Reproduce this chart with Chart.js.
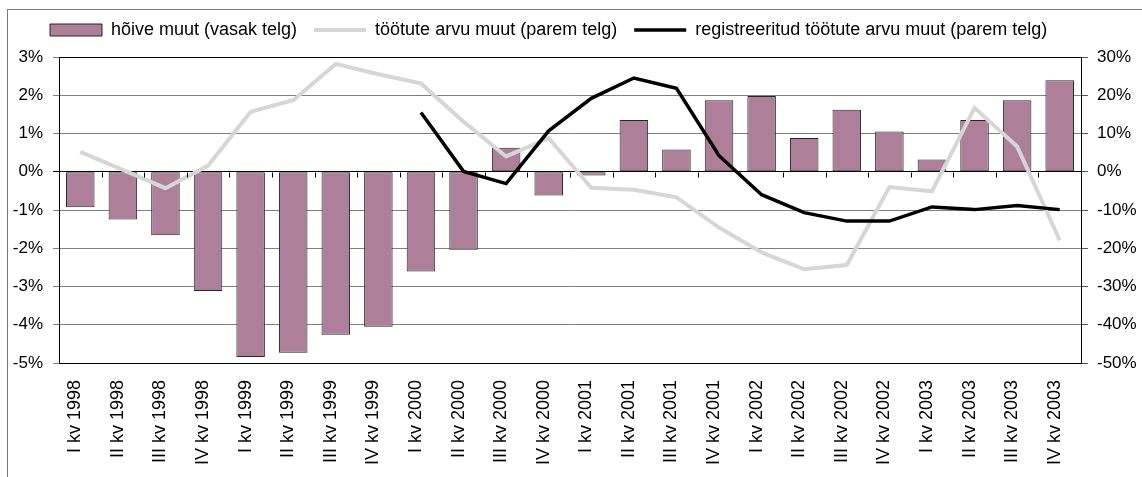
<!DOCTYPE html>
<html>
<head>
<meta charset="utf-8">
<script src="https://cdn.jsdelivr.net/npm/chart.js@4/dist/chart.umd.min.js"></script>
<style>
  html, body { margin: 0; padding: 0; background: #fff; }
  body { width: 1142px; height: 477px; position: relative; overflow: hidden; }
  #frame { position: absolute; left: 7px; top: 9px; width: 1140px; height: 480px; border: 1px solid #7a7a7a; box-sizing: border-box; z-index: 2; pointer-events: none; }
  #wrap { position: absolute; left: 0; top: 4px; width: 1142px; height: 473px; }
</style>
</head>
<body>
<div id="frame"></div>
<div id="wrap"><canvas id="chart"></canvas></div>
<script>
// kvartalid
const quarters = [
    'I kv 1998','II kv 1998','III kv 1998','IV kv 1998',
    'I kv 1999','II kv 1999','III kv 1999','IV kv 1999',
    'I kv 2000','II kv 2000','III kv 2000','IV kv 2000',
    'I kv 2001','II kv 2001','III kv 2001','IV kv 2001',
    'I kv 2002','II kv 2002','III kv 2002','IV kv 2002',
    'I kv 2003','II kv 2003','III kv 2003','IV kv 2003'
];
// hõive muut, % (vasak telg)
const hoiveMuut = [-0.93,-1.25,-1.66,-3.12,-4.84,-4.73,-4.26,-4.05,-2.61,-2.04,0.63,-0.62,-0.10,1.35,0.58,1.87,1.98,0.88,1.62,1.05,0.32,1.35,1.87,2.39];
// töötute arvu muut, % (parem telg)
const tootuteMuut = [5.2,0.5,-4.3,1.6,15.7,18.7,28.2,25.5,23.1,13.1,4.0,8.8,-4.2,-4.7,-6.7,-14.6,-21.1,-25.5,-24.4,-4.0,-5.1,16.7,6.6,-17.9];
// registreeritud töötute arvu muut, % (parem telg)
const regTootuteMuut = [null,null,null,null,null,null,null,null,15.5,0.1,-3.1,10.7,19.2,24.5,21.8,4.2,-6.0,-10.7,-12.9,-12.9,-9.2,-9.9,-8.8,-9.9];

const leftTicks = { min: -5, max: 3, step: 1 };
const rightTicks = { min: -50, max: 30, step: 10 };

const FONT = '"Liberation Sans", Arial, sans-serif';

// move the legend a bit: right and up, without touching the plot area
const legendShift = {
    id: 'legendShift',
    afterLayout(chart) {
        const lg = chart.legend;
        if (!lg) return;
        lg.left += 33; lg.right += 33;
        lg.top -= 8; lg.bottom -= 8;
    }
};

// plot area border + small ticks on the zero line (Excel style)
const plotFrame = {
    id: 'plotFrame',
    afterDraw(chart) {
        const { ctx, chartArea: a, scales } = chart;
        const x = scales.x, y = scales.y;
        const y0 = Math.round(y.getPixelForValue(0)) + 0.5;
        ctx.save();
        ctx.strokeStyle = '#000';
        ctx.lineWidth = 1;
        ctx.beginPath();
        for (let i = 1; i < quarters.length; i++) {
            const xb = Math.round((x.getPixelForValue(i - 1) + x.getPixelForValue(i)) / 2) + 0.5;
            ctx.moveTo(xb, y0);
            ctx.lineTo(xb, y0 + 5);
        }
        ctx.stroke();
        ctx.strokeRect(Math.round(a.left) + 0.5, Math.round(a.top) + 0.5, Math.round(a.width), Math.round(a.height));
        ctx.restore();
    }
};

document.addEventListener('DOMContentLoaded', function () {
    const ctx = document.getElementById('chart').getContext('2d');
    new Chart(ctx, {
        type: 'bar',
        data: {
            labels: quarters,
            datasets: [
                { type: 'bar', label: 'hõive muut (vasak telg)', data: hoiveMuut, yAxisID: 'y', order: 2,
                  backgroundColor: '#ae7f98', borderColor: '#262626', borderWidth: 1, borderSkipped: false,
                  barPercentage: 0.67, categoryPercentage: 1 },
                { type: 'line', label: 'töötute arvu muut (parem telg)', data: tootuteMuut, yAxisID: 'y2', order: 1,
                  borderColor: '#d6d6d6', backgroundColor: '#d6d6d6', borderWidth: 4, pointRadius: 0, tension: 0, fill: false },
                { type: 'line', label: 'registreeritud töötute arvu muut (parem telg)', data: regTootuteMuut, yAxisID: 'y2', order: 0,
                  borderColor: '#000', backgroundColor: '#000', borderWidth: 3.5, pointRadius: 0, tension: 0, fill: false }
            ]
        },
        options: {
            responsive: true,
            maintainAspectRatio: false,
            animation: false,
            layout: { padding: { left: 0, right: 0, top: 8, bottom: 0 } },
            plugins: {
                tooltip: { enabled: false },
                legend: {
                    position: 'top',
                    align: 'start',
                    labels: {
                        font: { family: FONT, size: 18 },
                        color: '#000',
                        usePointStyle: true,
                        pointStyleWidth: 52,
                        boxHeight: 12,
                        padding: 17,
                        sort: (a, b) => a.datasetIndex - b.datasetIndex,
                        generateLabels(chart) {
                            const items = Chart.defaults.plugins.legend.labels.generateLabels(chart);
                            items.forEach(it => { it.pointStyle = it.datasetIndex === 0 ? 'rect' : 'line'; });
                            return items;
                        }
                    }
                }
            },
            scales: {
                x: {
                    afterFit: s => { s.height = 114; },
                    grid: { display: false, drawTicks: false },
                    border: { display: false },
                    ticks: { autoSkip: false, minRotation: 90, maxRotation: 90, padding: 17, labelOffset: -5,
                             color: '#000', font: { family: FONT, size: 18 } }
                },
                y: {
                    position: 'left',
                    min: leftTicks.min, max: leftTicks.max,
                    afterFit: s => { s.width = 59; },
                    grid: { color: c => c.tick && c.tick.value === 0 ? '#000' : '#808080', lineWidth: 1, tickLength: 6 },
                    border: { color: '#000' },
                    ticks: { stepSize: leftTicks.step, padding: 10, color: '#000', font: { family: FONT, size: 17 },
                             callback: v => v + '%' }
                },
                y2: {
                    position: 'right',
                    min: rightTicks.min, max: rightTicks.max,
                    afterFit: s => { s.width = 61; },
                    grid: { drawOnChartArea: false, color: '#555', tickLength: 7 },
                    border: { color: '#000' },
                    ticks: { stepSize: rightTicks.step, padding: 9, color: '#000', font: { family: FONT, size: 17 },
                             callback: v => v + '%' }
                }
            }
        },
        plugins: [legendShift, plotFrame]
    });
});
</script>
</body>
</html>
